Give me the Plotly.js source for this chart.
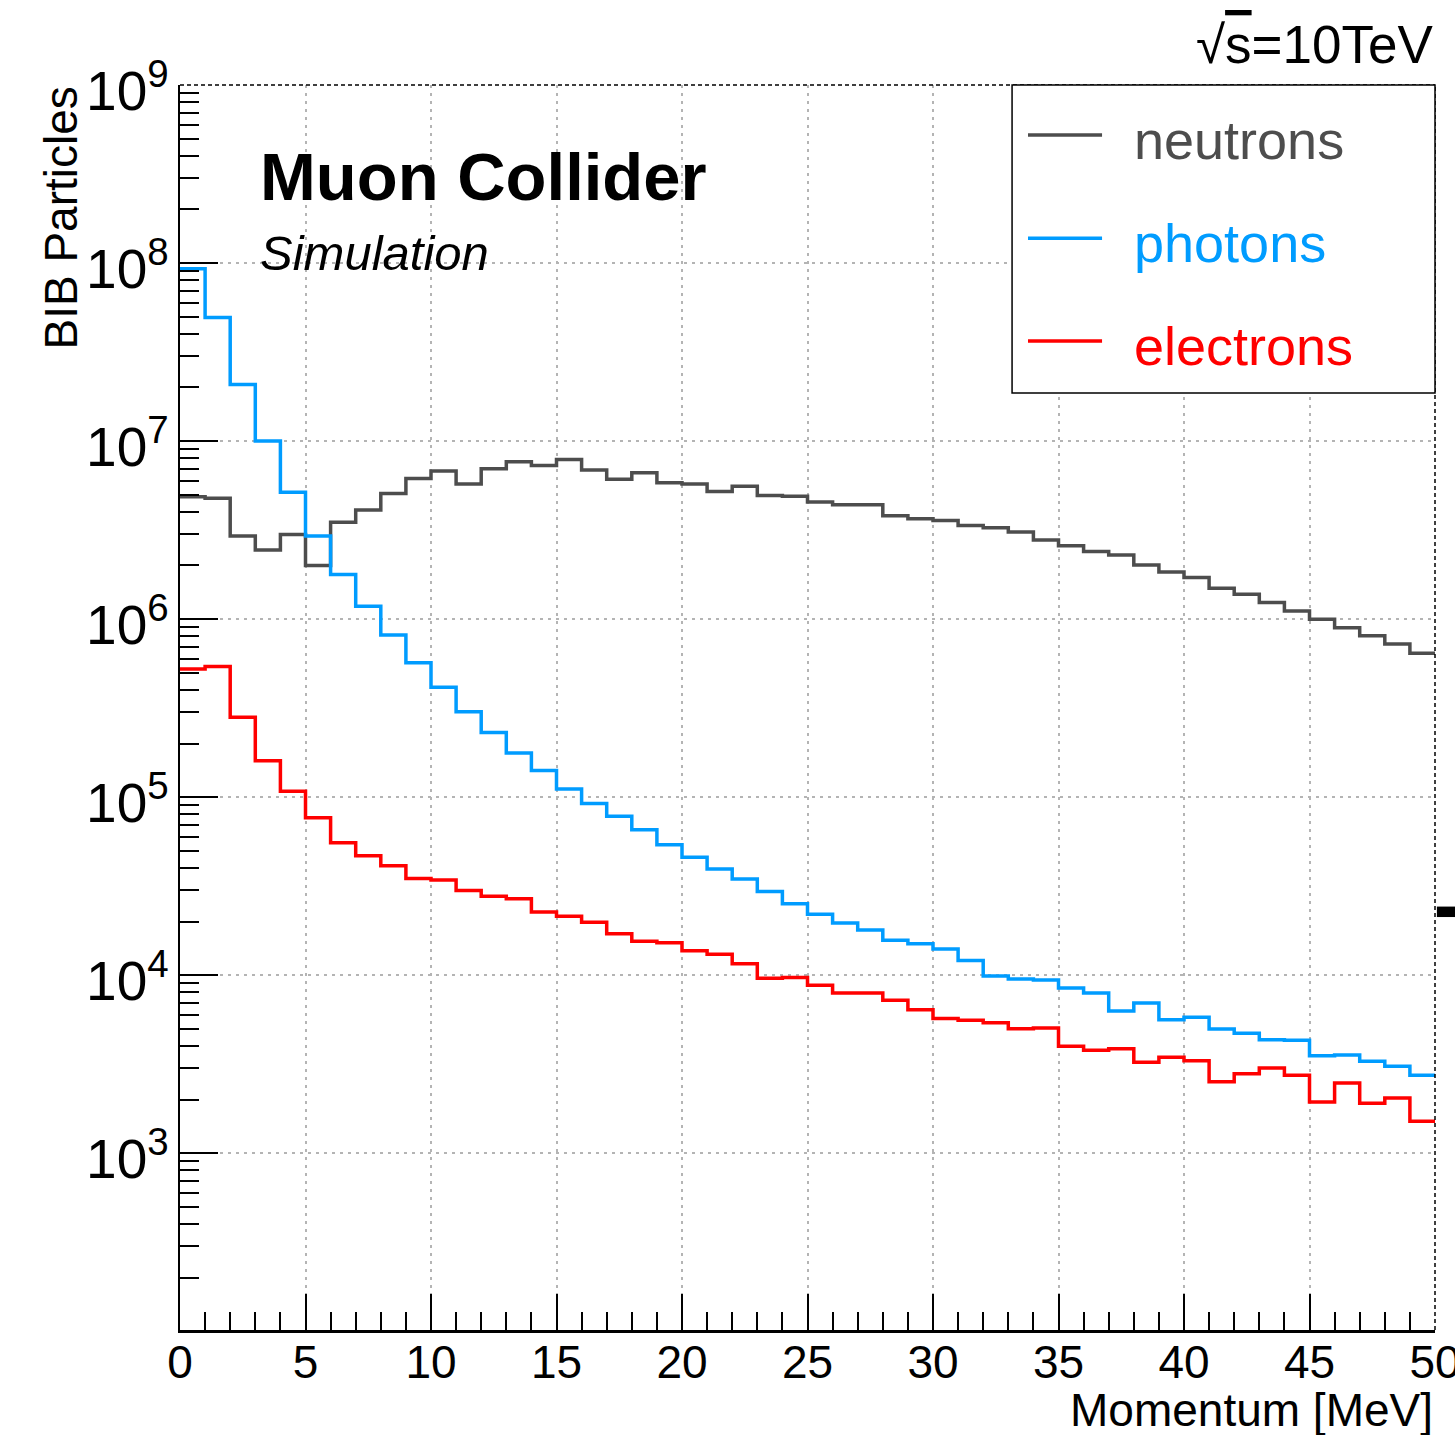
<!DOCTYPE html>
<html>
<head>
<meta charset="utf-8">
<script src="https://cdn.plot.ly/plotly-3.0.1.min.js"></script>
<style>
  html, body { margin: 0; padding: 0; background: #ffffff; }
  #chart { width: 1455px; height: 1435px; }
</style>
</head>
<body>
<div id="chart"></div>
<script>
// ---- Data (bin width 1 MeV, 0..50 MeV) ----
const binLow = 0;
const binHigh = 50;
const seriesNames = ["neutrons", "photons", "electrons"];
const seriesColors = ["#4d4d4d", "#009cff", "#ff0000"];

const neutrons = [
  4.86e6, 4.77e6, 2.93e6, 2.44e6, 2.99e6, 2.00e6, 3.50e6, 4.10e6, 5.08e6, 6.17e6,
  6.78e6, 5.73e6, 6.98e6, 7.64e6, 7.30e6, 7.89e6, 6.87e6, 6.11e6, 6.63e6, 5.83e6,
  5.73e6, 5.21e6, 5.58e6, 4.95e6, 4.89e6, 4.54e6, 4.39e6, 4.39e6, 3.80e6, 3.66e6,
  3.58e6, 3.36e6, 3.26e6, 3.08e6, 2.78e6, 2.58e6, 2.40e6, 2.29e6, 2.01e6, 1.84e6,
  1.71e6, 1.49e6, 1.38e6, 1.24e6, 1.11e6, 9.97e5, 8.95e5, 8.07e5, 7.25e5, 6.43e5
];
const photons = [
  9.30e7, 4.94e7, 2.08e7, 1.00e7, 5.15e6, 2.93e6, 1.78e6, 1.18e6, 8.14e5, 5.69e5,
  4.14e5, 3.02e5, 2.31e5, 1.77e5, 1.41e5, 1.11e5, 9.20e4, 7.80e4, 6.55e4, 5.40e4,
  4.60e4, 3.94e4, 3.47e4, 2.95e4, 2.52e4, 2.20e4, 1.96e4, 1.79e4, 1.57e4, 1.50e4,
  1.40e4, 1.21e4, 9.90e3, 9.50e3, 9.40e3, 8.47e3, 7.94e3, 6.29e3, 6.98e3, 5.62e3,
  5.80e3, 4.99e3, 4.71e3, 4.34e3, 4.31e3, 3.53e3, 3.56e3, 3.28e3, 3.08e3, 2.74e3
];
const electrons = [
  5.25e5, 5.41e5, 2.81e5, 1.60e5, 1.08e5, 7.65e4, 5.54e4, 4.69e4, 4.12e4, 3.49e4,
  3.42e4, 2.99e4, 2.77e4, 2.69e4, 2.26e4, 2.14e4, 1.98e4, 1.71e4, 1.55e4, 1.52e4,
  1.37e4, 1.31e4, 1.16e4, 9.60e3, 9.70e3, 8.77e3, 7.94e3, 7.94e3, 7.22e3, 6.40e3,
  5.70e3, 5.58e3, 5.41e3, 5.00e3, 5.05e3, 3.98e3, 3.78e3, 3.86e3, 3.24e3, 3.46e3,
  3.30e3, 2.52e3, 2.79e3, 3.01e3, 2.74e3, 1.94e3, 2.48e3, 1.91e3, 2.04e3, 1.51e3
];

const xTitle = "Momentum [MeV]";
const yTitle = "BIB Particles";
const labelMain = "Muon Collider";
const labelSub = "Simulation";
const labelEnergy = "√<span style=\"text-decoration:overline\">s</span>=10TeV";

// ---- Build step histograms from bin edges ----
const nBins = neutrons.length;
const binWidth = (binHigh - binLow) / nBins;
const edges = [];
for (let i = 0; i <= nBins; i++) edges.push(binLow + i * binWidth);

function stepY(vals) { return vals.concat([vals[vals.length - 1]]); }

const FONT = "Liberation Sans, Arial, Helvetica, sans-serif";
const allSeries = [neutrons, photons, electrons];

const traces = allSeries.map((vals, k) => ({
  type: "scatter",
  mode: "lines",
  x: edges,
  y: stepY(vals),
  name: seriesNames[k],
  line: { shape: "hv", color: seriesColors[k], width: 3.5 },
  showlegend: false,
  hoverinfo: "x+y+name"
}));

// legend geometry (paper coords)
const legX0 = 0.663, legX1 = 1.0, legY0 = 0.7526, legY1 = 1.0;
const legRows = [0.9598, 0.8770, 0.7943];

const shapes = [
  // top & right frame (dashed, ROOT style)
  { type: "line", xref: "paper", yref: "paper", x0: 0, x1: 1, y0: 1, y1: 1,
    line: { color: "#000000", width: 1.5, dash: "4px,3px" } },
  { type: "line", xref: "paper", yref: "paper", x0: 1, x1: 1, y0: 0, y1: 1,
    line: { color: "#000000", width: 1.5, dash: "4px,3px" } },
  // legend box
  { type: "rect", xref: "paper", yref: "paper", x0: legX0, x1: legX1, y0: legY0, y1: legY1,
    line: { color: "#000000", width: 1.5 }, fillcolor: "#ffffff", layer: "above" },
  // small black marker outside right edge
  { type: "rect", xref: "paper", yref: "paper", x0: 1.0015, x1: 1.0165, y0: 0.3317, y1: 0.3401,
    line: { width: 0 }, fillcolor: "#000000" }
];
const annotations = [];
seriesNames.forEach((nm, k) => {
  shapes.push({ type: "line", xref: "paper", yref: "paper", x0: 0.6757, x1: 0.7347,
    y0: legRows[k], y1: legRows[k], line: { color: seriesColors[k], width: 3.5 }, layer: "above" });
  annotations.push({ xref: "paper", yref: "paper", x: 0.7586, y: legRows[k] - 0.004,
    xanchor: "left", yanchor: "middle", showarrow: false, text: nm,
    font: { family: FONT, size: 54, color: seriesColors[k] } });
});

annotations.push(
  { xref: "paper", yref: "paper", x: 0.0622, y: 0.9265, xanchor: "left", yanchor: "middle",
    showarrow: false, text: "<b>" + labelMain + "</b>", font: { family: FONT, size: 67, color: "#000" } },
  { xref: "paper", yref: "paper", x: 0.0622, y: 0.8652, xanchor: "left", yanchor: "middle",
    showarrow: false, text: "<i>" + labelSub + "</i>", font: { family: FONT, size: 49, color: "#000" } },
  { xref: "paper", yref: "paper", x: 1.0, y: 1.0325, xanchor: "right", yanchor: "middle",
    showarrow: false, text: labelEnergy, font: { family: FONT, size: 53, color: "#000" } },
  { xref: "paper", yref: "paper", x: -0.0956, y: 1.0, xanchor: "center", yanchor: "top",
    textangle: -90, showarrow: false, text: yTitle, font: { family: FONT, size: 46, color: "#000" } },
  { xref: "paper", yref: "paper", x: 1.0, y: -0.0645, xanchor: "right", yanchor: "middle",
    showarrow: false, text: xTitle, font: { family: FONT, size: 46, color: "#000" } }
);

const layout = {
  width: 1455, height: 1435,
  margin: { l: 180, r: 20, t: 85, b: 105, pad: 0 },
  paper_bgcolor: "#ffffff", plot_bgcolor: "#ffffff",
  font: { family: FONT, size: 46, color: "#000" },
  showlegend: false,
  xaxis: {
    range: [binLow, binHigh],
    tickmode: "linear", tick0: 0, dtick: 5,
    ticks: "inside", ticklen: 36, tickwidth: 2, tickcolor: "#000",
    showline: true, linecolor: "#000", linewidth: 2.5,
    showgrid: true, gridcolor: "#b4b4b4", griddash: "3px,5px", gridwidth: 2,
    zeroline: false,
    ticklabelstandoff: -10,
    ticklabeloverflow: "allow",
    tickfont: { family: FONT, size: 46, color: "#000" },
    minor: { dtick: 1, ticks: "inside", ticklen: 18, tickwidth: 2, tickcolor: "#000", showgrid: false },
    layer: "above traces"
  },
  yaxis: {
    type: "log",
    range: [2.0067, 9],
    dtick: 1,
    exponentformat: "power",
    ticks: "inside", ticklen: 38, tickwidth: 2, tickcolor: "#000",
    showline: true, linecolor: "#000", linewidth: 2.5,
    showgrid: true, gridcolor: "#b4b4b4", griddash: "3px,5px", gridwidth: 2,
    zeroline: false,
    ticklabelstandoff: 0,
    ticklabelshift: 6,
    tickfont: { family: FONT, size: 44, color: "#000" },
    minor: { dtick: "D1", ticks: "inside", ticklen: 19, tickwidth: 2, tickcolor: "#000", showgrid: false },
    layer: "above traces"
  },
  shapes: shapes,
  annotations: annotations
};

Plotly.newPlot("chart", traces, layout, { displayModeBar: false, staticPlot: true });
</script>
</body>
</html>
